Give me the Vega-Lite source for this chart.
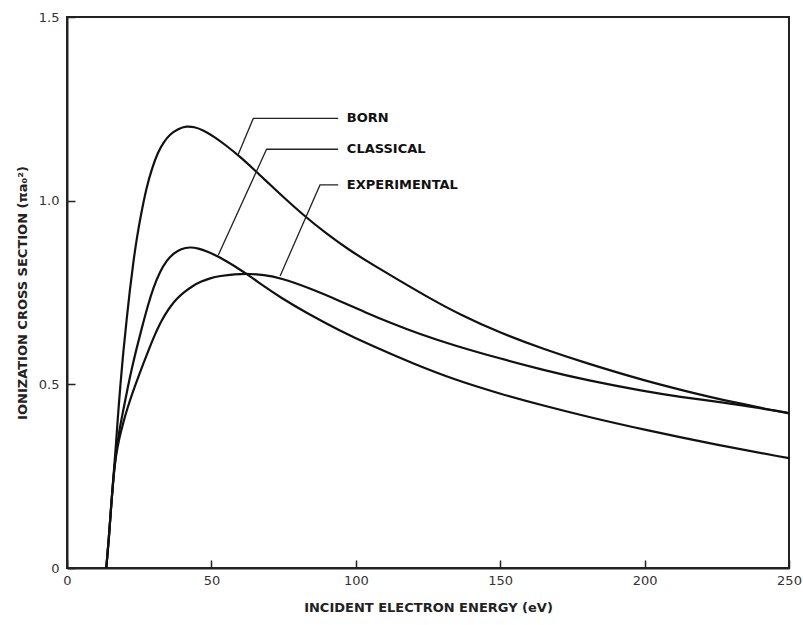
{
  "$schema": "https://vega.github.io/schema/vega-lite/v6.json",
  "width": 722,
  "height": 551,
  "autosize": {"type": "none"},
  "padding": {"left": 67, "top": 17, "right": 14, "bottom": 57},
  "background": "white",
  "config": {
    "view": {"stroke": "#222", "strokeWidth": 2},
    "axis": {
      "domainColor": "#222",
      "domainWidth": 2,
      "tickColor": "#222",
      "tickWidth": 1.5,
      "grid": false,
      "labelFlush": false,
      "labelFont": "DejaVu Sans",
      "labelFontSize": 13,
      "labelColor": "#333",
      "titleFont": "DejaVu Sans",
      "titleFontSize": 13,
      "titleFontWeight": "bold",
      "titleColor": "#222"
    }
  },
  "datasets": {
    "curves": [
      {"series": "Born", "E": 13.6, "sigma": 0},
      {"series": "Born", "E": 14.5, "sigma": 0.08},
      {"series": "Born", "E": 15.2, "sigma": 0.16},
      {"series": "Born", "E": 16.0, "sigma": 0.24},
      {"series": "Born", "E": 16.9, "sigma": 0.33},
      {"series": "Born", "E": 17.7, "sigma": 0.42},
      {"series": "Born", "E": 18.4, "sigma": 0.49},
      {"series": "Born", "E": 19.5, "sigma": 0.59},
      {"series": "Born", "E": 20.7, "sigma": 0.68},
      {"series": "Born", "E": 21.8, "sigma": 0.76},
      {"series": "Born", "E": 23.0, "sigma": 0.835},
      {"series": "Born", "E": 24.3, "sigma": 0.905},
      {"series": "Born", "E": 25.8, "sigma": 0.97},
      {"series": "Born", "E": 27.5, "sigma": 1.035},
      {"series": "Born", "E": 29.5, "sigma": 1.09},
      {"series": "Born", "E": 31.5, "sigma": 1.132},
      {"series": "Born", "E": 33.5, "sigma": 1.16},
      {"series": "Born", "E": 35.7, "sigma": 1.181},
      {"series": "Born", "E": 38.5, "sigma": 1.196},
      {"series": "Born", "E": 41.4, "sigma": 1.203},
      {"series": "Born", "E": 44.0, "sigma": 1.201},
      {"series": "Born", "E": 47.2, "sigma": 1.192},
      {"series": "Born", "E": 51.0, "sigma": 1.174},
      {"series": "Born", "E": 55.0, "sigma": 1.151},
      {"series": "Born", "E": 60.0, "sigma": 1.119},
      {"series": "Born", "E": 65.0, "sigma": 1.083},
      {"series": "Born", "E": 70.0, "sigma": 1.046},
      {"series": "Born", "E": 75.0, "sigma": 1.009},
      {"series": "Born", "E": 81.8, "sigma": 0.961},
      {"series": "Born", "E": 90.0, "sigma": 0.909},
      {"series": "Born", "E": 98.0, "sigma": 0.864},
      {"series": "Born", "E": 106.0, "sigma": 0.825},
      {"series": "Born", "E": 115.0, "sigma": 0.783},
      {"series": "Born", "E": 125.0, "sigma": 0.737},
      {"series": "Born", "E": 136.0, "sigma": 0.69},
      {"series": "Born", "E": 150.0, "sigma": 0.64},
      {"series": "Born", "E": 165.0, "sigma": 0.596},
      {"series": "Born", "E": 180.0, "sigma": 0.557},
      {"series": "Born", "E": 200.0, "sigma": 0.51},
      {"series": "Born", "E": 215.0, "sigma": 0.48},
      {"series": "Born", "E": 230.0, "sigma": 0.452},
      {"series": "Born", "E": 250.0, "sigma": 0.421},
      {"series": "Classical", "E": 13.6, "sigma": 0},
      {"series": "Classical", "E": 14.5, "sigma": 0.08},
      {"series": "Classical", "E": 15.2, "sigma": 0.16},
      {"series": "Classical", "E": 16.0, "sigma": 0.24},
      {"series": "Classical", "E": 16.9, "sigma": 0.31},
      {"series": "Classical", "E": 18.0, "sigma": 0.37},
      {"series": "Classical", "E": 19.5, "sigma": 0.43},
      {"series": "Classical", "E": 21.0, "sigma": 0.49},
      {"series": "Classical", "E": 22.5, "sigma": 0.545},
      {"series": "Classical", "E": 24.0, "sigma": 0.595},
      {"series": "Classical", "E": 25.8, "sigma": 0.65},
      {"series": "Classical", "E": 28.0, "sigma": 0.715},
      {"series": "Classical", "E": 30.0, "sigma": 0.765},
      {"series": "Classical", "E": 32.2, "sigma": 0.807},
      {"series": "Classical", "E": 34.5, "sigma": 0.837},
      {"series": "Classical", "E": 36.8, "sigma": 0.856},
      {"series": "Classical", "E": 39.5, "sigma": 0.869},
      {"series": "Classical", "E": 42.6, "sigma": 0.874},
      {"series": "Classical", "E": 45.5, "sigma": 0.87},
      {"series": "Classical", "E": 48.4, "sigma": 0.862},
      {"series": "Classical", "E": 53.0, "sigma": 0.846},
      {"series": "Classical", "E": 58.0, "sigma": 0.822},
      {"series": "Classical", "E": 63.4, "sigma": 0.794},
      {"series": "Classical", "E": 68.0, "sigma": 0.768},
      {"series": "Classical", "E": 73.8, "sigma": 0.737},
      {"series": "Classical", "E": 83.0, "sigma": 0.694},
      {"series": "Classical", "E": 94.0, "sigma": 0.648},
      {"series": "Classical", "E": 106.0, "sigma": 0.603},
      {"series": "Classical", "E": 120.0, "sigma": 0.556},
      {"series": "Classical", "E": 134.0, "sigma": 0.513},
      {"series": "Classical", "E": 150.0, "sigma": 0.474},
      {"series": "Classical", "E": 165.0, "sigma": 0.442},
      {"series": "Classical", "E": 180.0, "sigma": 0.412},
      {"series": "Classical", "E": 200.0, "sigma": 0.376},
      {"series": "Classical", "E": 225.0, "sigma": 0.335},
      {"series": "Classical", "E": 250.0, "sigma": 0.299},
      {"series": "Experimental", "E": 13.6, "sigma": 0},
      {"series": "Experimental", "E": 14.5, "sigma": 0.08},
      {"series": "Experimental", "E": 15.2, "sigma": 0.16},
      {"series": "Experimental", "E": 16.0, "sigma": 0.24},
      {"series": "Experimental", "E": 16.9, "sigma": 0.305},
      {"series": "Experimental", "E": 18.0, "sigma": 0.35},
      {"series": "Experimental", "E": 19.5, "sigma": 0.397},
      {"series": "Experimental", "E": 21.0, "sigma": 0.437},
      {"series": "Experimental", "E": 22.8, "sigma": 0.48},
      {"series": "Experimental", "E": 24.7, "sigma": 0.52},
      {"series": "Experimental", "E": 26.5, "sigma": 0.558},
      {"series": "Experimental", "E": 28.5, "sigma": 0.598},
      {"series": "Experimental", "E": 30.3, "sigma": 0.633},
      {"series": "Experimental", "E": 32.2, "sigma": 0.665},
      {"series": "Experimental", "E": 34.0, "sigma": 0.691},
      {"series": "Experimental", "E": 36.0, "sigma": 0.714},
      {"series": "Experimental", "E": 38.0, "sigma": 0.733},
      {"series": "Experimental", "E": 40.5, "sigma": 0.751},
      {"series": "Experimental", "E": 43.7, "sigma": 0.769},
      {"series": "Experimental", "E": 46.5, "sigma": 0.78},
      {"series": "Experimental", "E": 49.5, "sigma": 0.789},
      {"series": "Experimental", "E": 53.0, "sigma": 0.795},
      {"series": "Experimental", "E": 58.0, "sigma": 0.8},
      {"series": "Experimental", "E": 63.4, "sigma": 0.801},
      {"series": "Experimental", "E": 68.0, "sigma": 0.798},
      {"series": "Experimental", "E": 73.8, "sigma": 0.79},
      {"series": "Experimental", "E": 84.0, "sigma": 0.762},
      {"series": "Experimental", "E": 94.5, "sigma": 0.727},
      {"series": "Experimental", "E": 103.0, "sigma": 0.697},
      {"series": "Experimental", "E": 111.8, "sigma": 0.668},
      {"series": "Experimental", "E": 122.0, "sigma": 0.637},
      {"series": "Experimental", "E": 134.0, "sigma": 0.606},
      {"series": "Experimental", "E": 150.0, "sigma": 0.57},
      {"series": "Experimental", "E": 165.0, "sigma": 0.539},
      {"series": "Experimental", "E": 180.0, "sigma": 0.511},
      {"series": "Experimental", "E": 200.0, "sigma": 0.481},
      {"series": "Experimental", "E": 212.0, "sigma": 0.466},
      {"series": "Experimental", "E": 227.0, "sigma": 0.451},
      {"series": "Experimental", "E": 240.0, "sigma": 0.435},
      {"series": "Experimental", "E": 250.0, "sigma": 0.422}
    ],
    "leaders": [
      {"series": "Born", "ord": 1, "E": 59.2, "sigma": 1.124},
      {"series": "Born", "ord": 2, "E": 64.5, "sigma": 1.224},
      {"series": "Born", "ord": 3, "E": 93.9, "sigma": 1.224},
      {"series": "Classical", "ord": 1, "E": 52.4, "sigma": 0.852},
      {"series": "Classical", "ord": 2, "E": 69.1, "sigma": 1.14},
      {"series": "Classical", "ord": 3, "E": 93.9, "sigma": 1.14},
      {"series": "Experimental", "ord": 1, "E": 73.8, "sigma": 0.795},
      {"series": "Experimental", "ord": 2, "E": 87.6, "sigma": 1.043},
      {"series": "Experimental", "ord": 3, "E": 93.9, "sigma": 1.043}
    ],
    "labels": [
      {"label": "BORN", "E": 96.9, "sigma": 1.224},
      {"label": "CLASSICAL", "E": 96.9, "sigma": 1.14},
      {"label": "EXPERIMENTAL", "E": 96.9, "sigma": 1.043}
    ]
  },
  "layer": [
    {
      "data": {"name": "curves"},
      "mark": {"type": "line", "color": "#111", "strokeWidth": 2.2, "interpolate": "basis"},
      "encoding": {
        "x": {
          "field": "E", "type": "quantitative",
          "scale": {"domain": [0, 250], "nice": false},
          "axis": {
            "values": [0, 50, 100, 150, 200, 250],
            "title": "INCIDENT ELECTRON ENERGY (eV)",
            "tickSize": -8,
            "labelPadding": 14,
            "titleY": 39,
            "titleBaseline": "middle"
          }
        },
        "y": {
          "field": "sigma", "type": "quantitative",
          "scale": {"domain": [0, 1.5], "nice": false},
          "axis": {
            "values": [0, 0.5, 1, 1.5],
            "labelExpr": "datum.value == 0 ? '0' : format(datum.value, '.1f')",
            "title": "IONIZATION CROSS SECTION (πa₀²)",
            "tickSize": -8,
            "labelPadding": 16,
            "titleX": -45,
            "titleBaseline": "middle"
          }
        },
        "detail": {"field": "series"}
      }
    },
    {
      "data": {"name": "leaders"},
      "mark": {"type": "line", "color": "#222", "strokeWidth": 1.3},
      "encoding": {
        "x": {"field": "E", "type": "quantitative"},
        "y": {"field": "sigma", "type": "quantitative"},
        "detail": {"field": "series"},
        "order": {"field": "ord"}
      }
    },
    {
      "data": {"name": "labels"},
      "mark": {"type": "text", "align": "left", "baseline": "middle", "font": "DejaVu Sans", "fontSize": 13, "fontWeight": "bold", "color": "#111"},
      "encoding": {
        "x": {"field": "E", "type": "quantitative"},
        "y": {"field": "sigma", "type": "quantitative"},
        "text": {"field": "label"}
      }
    }
  ]
}
